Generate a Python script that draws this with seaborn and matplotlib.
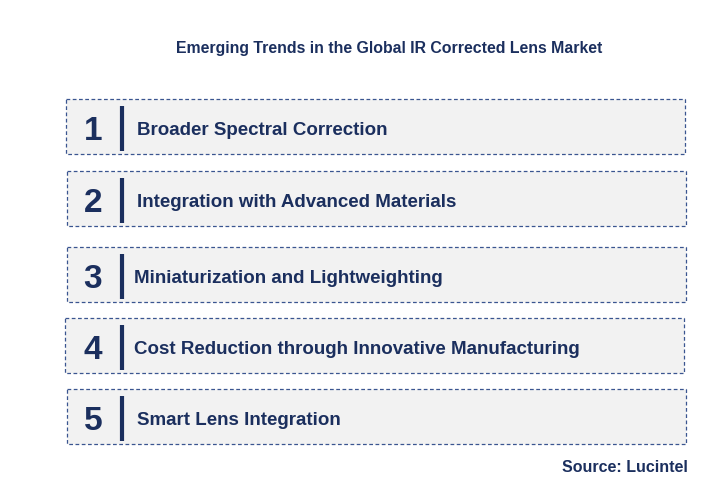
import matplotlib
matplotlib.use("Agg")
import matplotlib.pyplot as plt
import seaborn as sns
from matplotlib.patches import Rectangle

sns.set_theme(style="white", rc={"font.family": "Liberation Sans"})

title = "Emerging Trends in the Global IR Corrected Lens Market"
numbers = ["1", "2", "3", "4", "5"]
trends = [
    "Broader Spectral Correction",
    "Integration with Advanced Materials",
    "Miniaturization and Lightweighting",
    "Cost Reduction through Innovative Manufacturing",
    "Smart Lens Integration",
]
source = "Source: Lucintel"

# layout (pixel space)
box_left = [66, 67, 67, 65, 67]
box_top = [100, 172, 248, 319, 390]
box_w, box_h = 619, 55
text_x = [137, 137, 134, 134, 137]

navy = "#1b2f5e"
fig = plt.figure(figsize=(7.12, 4.81), dpi=100)
ax = fig.add_axes([0, 0, 1, 1])
ax.set_xlim(0, 712)
ax.set_ylim(481, 0)
ax.axis("off")

ax.text(389, 49, title, ha="center", va="center", fontsize=11.4, fontweight="bold", color=navy)
for n, t, x0, y0, tx in zip(numbers, trends, box_left, box_top, text_x):
    ax.add_patch(Rectangle((x0, y0), box_w, box_h, facecolor="#f2f2f2",
                           edgecolor="#3a5590", linestyle=(0, (3, 2)), linewidth=0.9))
    cy = y0 + box_h / 2
    ax.text(93, cy + 4, n, ha="center", va="center", fontsize=24, fontweight="bold", color=navy)
    ax.plot([122, 122], [y0 + 7, y0 + box_h - 3], color=navy, linewidth=3, solid_capstyle="butt")
    ax.text(tx, cy + 3, t, ha="left", va="center", fontsize=13.5, fontweight="bold", color=navy)
ax.text(688, 468, source, ha="right", va="center", fontsize=11.5, fontweight="bold", color=navy)

fig.savefig("out.png", dpi=100)
